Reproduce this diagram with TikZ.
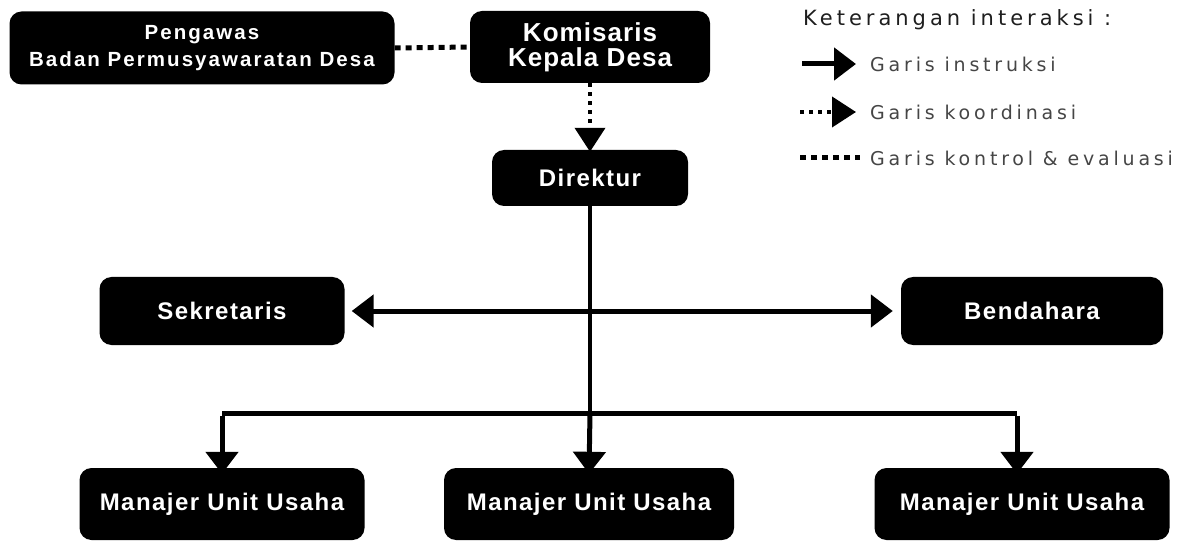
\documentclass[tikz,border=0pt]{standalone}
\usepackage{fontspec}
\setmainfont{DejaVu Sans}
\newfontfamily\pgfont{Liberation Sans}[LetterSpace=10]
\newfontfamily\kmfont{Liberation Sans}[LetterSpace=4]
\newfontfamily\bxfont{Liberation Sans}[LetterSpace=6]
\newfontfamily\lgfont{DejaVu Sans}[LetterSpace=20]
\newfontfamily\lgtitlefont{DejaVu Sans}[LetterSpace=19]
\usetikzlibrary{arrows.meta}
\definecolor{legendgray}{HTML}{454545}
\definecolor{titlegray}{HTML}{1E1E1E}
\begin{document}
\begin{tikzpicture}[x=1pt,y=-1pt,
  box/.style={fill=black,text=white,rounded corners=12pt,inner sep=0pt,align=center},
  bigfont/.style={font=\bxfont\bfseries\fontsize{24}{26}\selectfont},
  solidarrow/.style={line width=5pt,-{Triangle[width=32pt,length=22pt]}},
  dblarrow/.style={line width=5pt,{Triangle[width=32pt,length=22pt]}-{Triangle[width=32pt,length=22pt]}},
  ctrlline/.style={line width=5pt,dash pattern=on 6pt off 5pt},
  coordarrow/.style={line width=4pt,dash pattern=on 4pt off 5pt,-{Triangle[width=30pt,length=24pt]}},
  legendtext/.style={anchor=west,text=legendgray,font=\lgfont\fontsize{19}{22}\selectfont,inner sep=0pt}
]
\useasboundingbox (0,0) rectangle (1199,545);

% nodes
\node[box,minimum width=385pt,minimum height=73pt,font=\pgfont\bfseries\fontsize{20.5}{27}\selectfont] (pengawas) at (202,48) {Pengawas\\Badan Permusyawaratan Desa};
\node[box,minimum width=240pt,minimum height=72pt,font=\kmfont\bfseries\fontsize{26}{25}\selectfont] (komisaris) at (590,47) {Komisaris\\Kepala Desa};
\node[box,bigfont,minimum width=196pt,minimum height=56pt] (direktur) at (590,178) {Direktur};
\node[box,bigfont,minimum width=245pt,minimum height=68pt] (sekretaris) at (222,311) {Sekretaris};
\node[box,bigfont,minimum width=262pt,minimum height=68pt] (bendahara) at (1032,311) {Bendahara};
\node[box,bigfont,minimum width=285pt,minimum height=72pt] (m1) at (222,504) {Manajer Unit Usaha};
\node[box,bigfont,minimum width=290pt,minimum height=72pt] (m2) at (589,504) {Manajer Unit Usaha};
\node[box,bigfont,minimum width=295pt,minimum height=72pt] (m3) at (1022,504) {Manajer Unit Usaha};

% connectors
\draw[ctrlline] (pengawas.east) -- (komisaris.west);
\draw[coordarrow] (komisaris.south) -- ([yshift=-2pt]direktur.north);
\coordinate (junction) at (590,413);
\coordinate (left) at (222,413);
\coordinate (right) at (1017,413);
\draw[line width=4pt] (direktur.south) -- (junction);
\draw[dblarrow] ([xshift=7pt]sekretaris.east) -- ([xshift=-8pt]bendahara.west);
\draw[line width=5pt] (left) -- (right);
\draw[solidarrow] (junction) -- ([yshift=-6pt]m2.north);
\draw[solidarrow] ([yshift=-2.5pt]left) -- ([yshift=-6pt]m1.north);
\draw[solidarrow] ([yshift=-2.5pt]right) -- ([yshift=-6pt]right |- m3.north);

% legend
\node[anchor=west,inner sep=0pt,text=titlegray,font=\lgtitlefont\fontsize{21}{24}\selectfont] (legtitle) at (803,20) {Keterangan interaksi :};
\coordinate (l1a) at (802,64); \coordinate (l1b) at (856,64);
\coordinate (l2a) at (800,112); \coordinate (l2b) at (856,112);
\coordinate (l3a) at (800,158); \coordinate (l3b) at (860,158);
\draw[solidarrow] (l1a) -- (l1b);
\draw[coordarrow] (l2a) -- (l2b);
\draw[ctrlline] (l3a) -- (l3b);
\node[legendtext] (t1) at (870,64) {Garis instruksi};
\node[legendtext] (t2) at (870,112) {Garis koordinasi};
\node[legendtext] (t3) at (870,158) {Garis kontrol \& evaluasi};
\end{tikzpicture}
\end{document}
